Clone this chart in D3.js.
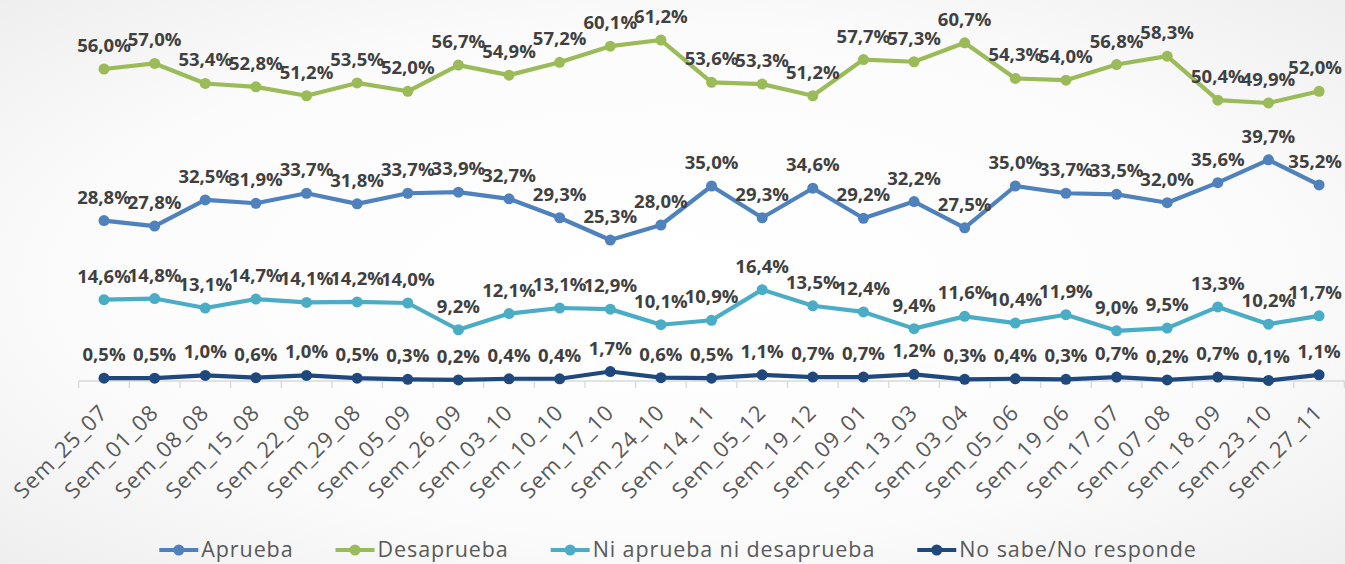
<!DOCTYPE html>
<html><head><meta charset="utf-8">
<script src="https://cdn.jsdelivr.net/npm/d3@7"></script>
<style>html,body{margin:0;padding:0;overflow:hidden;background:#fff}</style>
</head><body>
<svg id="chart" width="1345" height="564"></svg>
<script>
const categories = ["Sem_25_07","Sem_01_08","Sem_08_08","Sem_15_08","Sem_22_08","Sem_29_08","Sem_05_09","Sem_26_09","Sem_03_10","Sem_10_10","Sem_17_10","Sem_24_10","Sem_14_11","Sem_05_12","Sem_19_12","Sem_09_01","Sem_13_03","Sem_03_04","Sem_05_06","Sem_19_06","Sem_17_07","Sem_07_08","Sem_18_09","Sem_23_10","Sem_27_11"];
const seriesNames = ["Aprueba","Desaprueba","Ni aprueba ni desaprueba","No sabe/No responde"];
const aprueba = [28.8,27.8,32.5,31.9,33.7,31.8,33.7,33.9,32.7,29.3,25.3,28.0,35.0,29.3,34.6,29.2,32.2,27.5,35.0,33.7,33.5,32.0,35.6,39.7,35.2];
const desaprueba = [56.0,57.0,53.4,52.8,51.2,53.5,52.0,56.7,54.9,57.2,60.1,61.2,53.6,53.3,51.2,57.7,57.3,60.7,54.3,54.0,56.8,58.3,50.4,49.9,52.0];
const niAprueba = [14.6,14.8,13.1,14.7,14.1,14.2,14.0,9.2,12.1,13.1,12.9,10.1,10.9,16.4,13.5,12.4,9.4,11.6,10.4,11.9,9.0,9.5,13.3,10.2,11.7];
const noSabe = [0.5,0.5,1.0,0.6,1.0,0.5,0.3,0.2,0.4,0.4,1.7,0.6,0.5,1.1,0.7,0.7,1.2,0.3,0.4,0.3,0.7,0.2,0.7,0.1,1.1];
const colors = ["#4F81BD","#9BBB59","#4BACC6","#1F497D"];

const series = [aprueba, desaprueba, niAprueba, noSabe];
const svg = d3.select("#chart");
const W = 1345;

// background
const defs = svg.append("defs");
const rg = defs.append("radialGradient").attr("id","bg").attr("cx","50%").attr("cy","50%").attr("r","75%");
rg.append("stop").attr("offset","0%").attr("stop-color","#ffffff");
rg.append("stop").attr("offset","60%").attr("stop-color","#fbfbfb");
rg.append("stop").attr("offset","100%").attr("stop-color","#ececec");
svg.append("rect").attr("width",W).attr("height",564).attr("fill","url(#bg)");

const x = d3.scaleBand().domain(categories).range([78.7, 1344.4]).paddingInner(0).paddingOuter(0);
const cx = c => x(c) + x.bandwidth()/2;
const y = d3.scaleLinear().domain([0,70]).range([381, -9]);

// axis
const ax = svg.append("g");
ax.append("line").attr("x1",x.range()[0]).attr("x2",x.range()[1]).attr("y1",381).attr("y2",381)
  .attr("stroke","#d9d9d9").attr("stroke-width",1.3);
const bounds = categories.map(c => x(c)).concat([x.range()[1]]);
ax.selectAll("line.tick").data(bounds).join("line").attr("class","tick")
  .attr("x1",d=>d).attr("x2",d=>d).attr("y1",381).attr("y2",388)
  .attr("stroke","#d9d9d9").attr("stroke-width",1.3);
ax.selectAll("text.cat").data(categories).join("text").attr("class","cat")
  .attr("transform", d => `translate(${cx(d)+5},${414}) rotate(-45)`)
  .attr("text-anchor","end")
  .attr("font-family","'Open Sans', sans-serif").attr("font-size",22).attr("letter-spacing",0.8)
  .attr("fill","#595959").text(d=>d);

// lines
const line = d3.line().x((d,i)=>cx(categories[i])).y(d=>y(d));
series.forEach((s,k)=>{
  const g = svg.append("g");
  g.append("path").datum(s).attr("d",line).attr("fill","none").attr("stroke",colors[k])
    .attr("stroke-width",4.2).attr("stroke-linejoin","round").attr("stroke-linecap","round");
  g.selectAll("circle").data(s).join("circle").attr("cx",(d,i)=>cx(categories[i])).attr("cy",d=>y(d))
    .attr("r",5.5).attr("fill",colors[k]);
});
// value labels
series.forEach((s,k)=>{
  svg.append("g").selectAll("text").data(s).join("text")
    .attr("x",(d,i)=>cx(categories[i])).attr("y",d=>y(d)-17)
    .attr("text-anchor","middle").attr("font-family","'Open Sans', sans-serif").attr("font-weight",700)
    .attr("font-size",18.5).attr("fill","#404040")
    .text(d=>d.toFixed(1).replace(".",",")+"%")
    .each(function(d,i){
      const w = this.getComputedTextLength();
      const c = cx(categories[i]);
      const maxC = W - 3 - w/2;
      if (c > maxC) d3.select(this).attr("x", maxC);
    });
});

// legend
const lg = svg.append("g");
const items = lg.selectAll("g").data(seriesNames).join("g");
items.append("line").attr("x1",0).attr("x2",39).attr("y1",0).attr("y2",0)
  .attr("stroke",(d,i)=>colors[i]).attr("stroke-width",4.2);
items.append("circle").attr("cx",19.5).attr("cy",0).attr("r",5.5).attr("fill",(d,i)=>colors[i]);
items.append("text").attr("x",42).attr("y",7).attr("font-family","'Open Sans', sans-serif")
  .attr("font-size",21.5).attr("letter-spacing",0.9).attr("fill","#595959").text(d=>d);
let pos = 0; const offs=[];
items.each(function(){ offs.push(pos); pos += 42 + this.querySelector("text").getComputedTextLength() + 42; });
const total = pos - 42;
const start = 678 - total/2;
items.attr("transform",(d,i)=>`translate(${start+offs[i]},550)`);
</script>
</body></html>
